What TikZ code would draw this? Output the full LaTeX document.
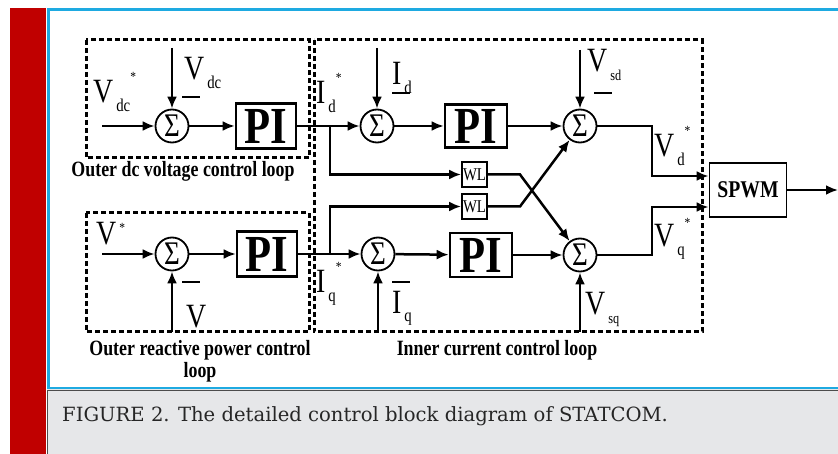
\documentclass[tikz,border=0pt]{standalone}
\usepackage{fontspec}
\setmainfont{Liberation Serif}
\newfontfamily\diagfont[FakeStretch=0.82]{Liberation Serif}
\newfontfamily\capfont{DejaVu Serif}
\usetikzlibrary{arrows.meta, positioning}

\definecolor{framered}{RGB}{192,0,0}
\definecolor{frameblue}{RGB}{30,170,225}
\definecolor{capgrey}{RGB}{230,231,233}
\definecolor{captext}{RGB}{38,38,38}

\newcommand\fsz[1]{\fontsize{#1}{#1}\selectfont}
% letter, subscript, star (optional raise of the star)
\newcommand\siglbl[4][21pt]{{\fsz{34}#2}\kern3pt\raisebox{-9pt}{\fsz{18}#3}\raisebox{#1}{\fsz{14}#4}}

\begin{document}
\begin{tikzpicture}[
  x=1pt, y=-1pt,
  sig/.style={line width=2.5pt, -{Latex[length=12pt,width=10pt]}},
  sumnode/.style={draw, circle, line width=1.8pt, minimum size=33pt, inner sep=0pt, font=\diagfont\fsz{33}},
  piblock/.style={draw, line width=2.6pt, minimum width=60pt, minimum height=45pt, inner sep=0pt, font=\diagfont\bfseries\fsz{52}},
  wlblock/.style={draw, line width=1.8pt, minimum size=25pt, inner sep=0pt, font=\diagfont\fsz{18}},
  pwmblock/.style={draw, line width=1.8pt, minimum width=77pt, minimum height=54pt, inner sep=0pt, font=\diagfont\bfseries\fsz{24}},
  loopbox/.style={line width=3pt, dash pattern=on 5pt off 3pt},
  looplbl/.style={font=\diagfont\bfseries\fsz{21.8}, inner sep=0pt},
  siglabel/.style={font=\diagfont, inner sep=0pt, anchor=base west},
  minusbar/.style={fill, minimum width=18pt, minimum height=1.8pt, inner sep=0pt}
]
  \useasboundingbox (0,0) rectangle (838,454);

  % page frame and caption strip
  \fill[framered] (10,8) rectangle (46,454);
  \fill[capgrey] (47,389) rectangle (838,454);
  \draw[frameblue, line width=2.5pt] (838,9.5) -- (48.5,9.5) -- (48.5,388) -- (838,388);
  \draw[gray!60!black, line width=0.8pt] (838,390.5) -- (47,390.5) -- (47,454);
  \node[font=\capfont\fsz{19.6}, text=captext, anchor=base west, inner sep=0pt] (cap) at (62,421)
    {FIGURE 2. The detailed control block diagram of STATCOM.};

  % loop frames
  \draw[loopbox] (86,40) rectangle (309,158);
  \draw[loopbox] (86,213) rectangle (309,332);
  \draw[loopbox] (314,40) rectangle (702,332);
  \node[looplbl] (lbldc) at (183,171) {Outer dc voltage control loop};
  \node[looplbl, align=center] (lblq) at (200,361) {Outer reactive power control\\loop};
  \node[looplbl] (lblin) at (497,350) {Inner current control loop};

  % blocks
  \node[sumnode] (s1) at (172,126) {Σ};
  \node[sumnode] (s2) at (377,126) {Σ};
  \node[sumnode] (s3) at (580,126) {Σ};
  \node[sumnode] (s5) at (172,254) {Σ};
  \node[sumnode] (s6) at (378,254) {Σ};
  \node[sumnode] (s4) at (580,255) {Σ};
  \node[piblock] (pi1) at (266,126) {PI};
  \node[piblock, minimum width=62pt, minimum height=43pt] (pi2) at (476,126) {PI};
  \node[piblock] (pi3) at (267,254) {PI};
  \node[piblock, minimum width=62pt, minimum height=44pt] (pi4) at (481,255) {PI};
  \node[wlblock] (wl1) at (474.5,174.5) {WL};
  \node[wlblock] (wl2) at (474.5,206.5) {WL};
  \node[pwmblock] (pwm) at (748,190) {SPWM};

  % free ends and corners
  \coordinate (in1) at (102,126);
  \coordinate (in5) at (102,254);
  \coordinate (vdcin) at (172,48);
  \coordinate (idin) at (377,48);
  \coordinate (vsdin) at (580,50);
  \coordinate (vin) at (172,332);
  \coordinate (iqin) at (378,332);
  \coordinate (vsqin) at (580,332);
  \coordinate (b1) at (330,126);
  \coordinate (b2) at (330,254);
  \coordinate (k1) at (520,174.5);
  \coordinate (k2) at (520,206.5);
  \coordinate (vd) at (652,176);
  \coordinate (vq) at (652,207);
  \coordinate (out) at (838,190);

  % d axis
  \draw[sig] (in1) -- (s1);
  \draw[sig] (vdcin) -- (s1);
  \draw[sig] (s1) -- (pi1);
  \draw[sig] (pi1) -- (s2);
  \draw[sig] (idin) -- (s2);
  \draw[sig] (s2) -- (pi2);
  \draw[sig] (pi2) -- (s3);
  \draw[sig] (vsdin) -- (s3);
  \draw[sig] (s3) -| (vd) -- (vd -| pwm.west);
  % q axis
  \draw[sig] (in5) -- (s5);
  \draw[sig] (vin) -- (s5);
  \draw[sig] (s5) -- (pi3);
  \draw[sig] (pi3) -- (s6);
  \draw[sig] (iqin) -- (s6);
  \draw[sig] (s6) -- (pi4);
  \draw[sig] (pi4) -- (s4);
  \draw[sig] (vsqin) -- (s4);
  \draw[sig] (s4) -| (vq) -- (vq -| pwm.west);
  % cross coupling
  \draw[sig] (b1) |- (wl1);
  \draw[sig] (b2) |- (wl2);
  \draw[sig] (wl1) -- (k1) -- (s4);
  \draw[sig] (wl2) -- (k2) -- (s3);
  \draw[sig] (pwm) -- (out);

  % signal labels
  \node[siglabel] (vdcref) at (93,103) {\siglbl{V}{dc}{*}};
  \node[siglabel] (vdcfb) at (184,80) {\siglbl{V}{dc}{}};
  \node[siglabel] (idref) at (316,104) {\siglbl{I}{d}{*}};
  \node[siglabel] (idfb) at (392,85) {\siglbl{I}{d}{}};
  \node[siglabel] (vsd) at (587,72) {\siglbl{V}{\fsz{15}sd}{}};
  \node[siglabel] (vdref) at (654,157) {\siglbl{V}{d}{*}};
  \node[siglabel] (vref) at (96,245) {\siglbl[12pt]{V}{}{*}};
  \node[siglabel] (vfb) at (186,327) {\siglbl{V}{}{}};
  \node[siglabel] (iqref) at (316,293) {\siglbl{I}{q}{*}};
  \node[siglabel] (iqfb) at (392,313) {\siglbl{I}{q}{}};
  \node[siglabel] (vsq) at (585,315) {\siglbl{V}{\fsz{15}sq}{}};
  \node[siglabel] (vqref) at (654,247) {\siglbl[19pt]{V}{q}{*}};
  \node[minusbar] (m1) at (191,97) {};
  \node[minusbar] (m2) at (401,93) {};
  \node[minusbar] (m3) at (603,93) {};
  \node[minusbar] (m4) at (191,282) {};
  \node[minusbar] (m5) at (401,282) {};
\end{tikzpicture}
\end{document}
